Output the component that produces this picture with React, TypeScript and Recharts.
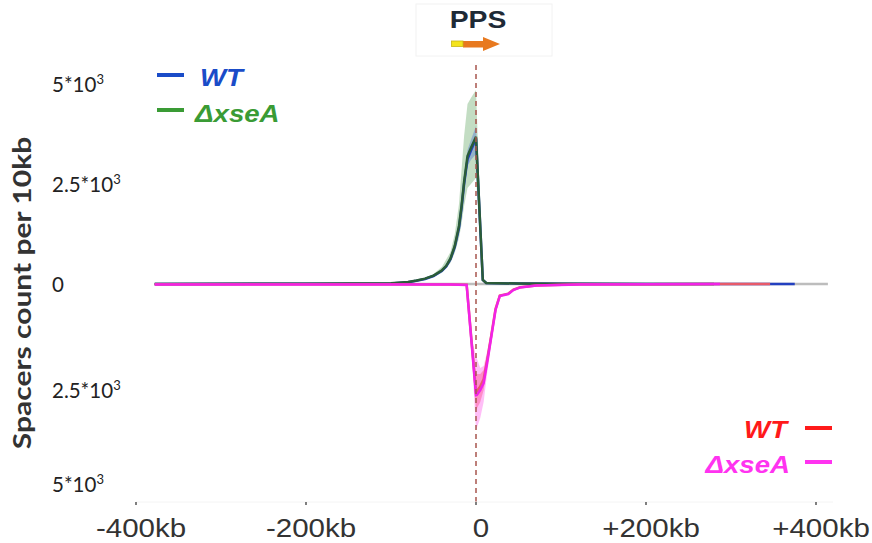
import React from 'react';
import { ComposedChart, Line, Area, XAxis, YAxis, ReferenceLine } from 'recharts';

// --- data (kb from PPS, spacers per 10kb) ---
const xTicks = [-400, -200, 0, 200, 400];
const xTickLabels = ['-400kb', '-200kb', '0', '+200kb', '+400kb'];
const yTicks = [-5000, -2500, 0, 2500, 5000];

const baselineKb = [-378, 414];
const baselineVal = [0, 0];

// upper half (WT blue, ΔxseA green)
const wtPosKb = [-378, -200, -100, -80, -70, -60, -50, -40, -35, -30, -25, -20, -17, -14, -10, -6, 0, 8, 12, 50, 100, 200, 300, 375];
const wtPos = [0, 5, 15, 45, 80, 125, 200, 330, 440, 620, 920, 1400, 1900, 2500, 3120, 3330, 3640, 100, 25, 12, 5, 2, 0, 0];
const xsePosKb = [-378, -200, -100, -80, -70, -60, -50, -40, -35, -30, -25, -20, -17, -14, -10, -6, 0, 8, 12, 50, 100, 200, 280];
const xsePos = [0, 5, 20, 50, 90, 135, 210, 345, 455, 640, 950, 1450, 1950, 2550, 3200, 3400, 3680, 100, 25, 12, 5, 2, 0];

const posBandKb = [-60, -50, -40, -30, -25, -20, -17, -14, -10, -6, 0, 8, 12];
const xsePosLo = [115, 180, 280, 530, 780, 1150, 1500, 1950, 2400, 2500, 2650, 80, 20];
const xsePosHi = [160, 250, 430, 800, 1250, 2000, 2850, 3700, 4500, 4650, 4850, 130, 30];
const wtPosLo = [115, 185, 310, 590, 880, 1320, 1800, 2380, 2950, 3100, 3250, 90, 22];
const wtPosHi = [135, 215, 350, 650, 960, 1500, 2000, 2650, 3350, 3600, 3950, 110, 28];

// lower half (WT red, ΔxseA magenta), drawn downwards
const xseNegKb = [-378, -100, -30, -11, 0, 1, 5, 9, 13, 18, 23, 28, 38, 44, 52, 71, 122, 200, 287];
const xseNeg = [-10, -10, -15, -25, -2780, -2775, -2650, -2480, -1980, -1320, -650, -300, -250, -150, -85, -40, -10, -5, 0];
const wtNegKb = [-378, -100, -30, -11, 0, 1, 5, 9, 13, 18, 23, 28, 38, 44, 52, 71, 122, 200, 287, 346];
const wtNeg = [-5, -5, -10, -20, -2700, -2680, -2560, -2380, -1920, -1280, -620, -290, -240, -140, -80, -35, -8, -4, -2, 0];

const negBandKb = [-11, -5, 0, 5, 9, 13, 18, 23, 28];
const xseNegLo = [-30, -1750, -3650, -3350, -2950, -2250, -1500, -720, -330];
const xseNegHi = [-20, -1350, -1800, -2100, -2050, -1700, -1150, -580, -270];
const wtNegLo = [-25, -1700, -3150, -2950, -2650, -2100, -1400, -680, -310];
const wtNegHi = [-20, -1400, -2250, -2250, -2150, -1780, -1200, -600, -280];

const pts = (xs: number[], ys: number[]) => xs.map((kb, i) => ({ kb, v: ys[i] }));
const band = (xs: number[], lo: number[], hi: number[]) => xs.map((kb, i) => ({ kb, band: [lo[i], hi[i]] }));

const YTick = (props: any) => {
  const { y, payload } = props;
  const v = Math.abs(payload.value);
  const nudge = payload.value < 0 ? (payload.value === -2500 ? 7 : 1) : 1;
  return (
    <text x={52} y={y + nudge} dy="0.35em" fontFamily="Lato" fontSize={20.5} fill="#222">
      {v === 0 ? '0' : `${v / 1000}*10`}
      {v !== 0 && <tspan dy={-8} fontSize={13}>3</tspan>}
    </text>
  );
};

const XTick = (props: any) => {
  const { x, y, payload } = props;
  const idx = xTicks.indexOf(payload.value);
  return (
    <g transform={`translate(${x + 5},${y + 30})`}>
      <text transform="scale(1.18,1)" textAnchor="middle" fontFamily="Liberation Sans" fontSize={25} fill="#333">
        {xTickLabels[idx]}
      </text>
    </g>
  );
};

export default function App() {
  return (
    <div style={{ position: 'absolute', left: 0, top: 0, width: 872, height: 543, background: '#fff' }}>
      <ComposedChart width={872} height={543} margin={{ top: 64, right: 39, bottom: 5, left: 0 }}>
        <XAxis
          dataKey="kb"
          type="number"
          domain={[-400, 420]}
          ticks={xTicks}
          allowDataOverflow
          height={36}
          axisLine={{ stroke: '#f4f4f4' }}
          tickLine={{ stroke: '#555', strokeWidth: 1.5 }}
          tickSize={3}
          tick={<XTick />}
        />
        <YAxis
          type="number"
          domain={[-5450, 5500]}
          ticks={yTicks}
          width={136}
          axisLine={false}
          tickLine={false}
          tick={<YTick />}
        />

        <Area data={band(posBandKb, xsePosLo, xsePosHi)} dataKey="band" type="linear" stroke="none" fill="#a9cfa9" fillOpacity={0.7} isAnimationActive={false} />
        <Area data={band(posBandKb, wtPosLo, wtPosHi)} dataKey="band" type="linear" stroke="none" fill="#7f9fcc" fillOpacity={0.7} isAnimationActive={false} />
        <Area data={band(negBandKb, xseNegLo, xseNegHi)} dataKey="band" type="linear" stroke="none" fill="#ffa8f4" fillOpacity={0.75} isAnimationActive={false} />
        <Area data={band(negBandKb, wtNegLo, wtNegHi)} dataKey="band" type="linear" stroke="none" fill="#ff6aa8" fillOpacity={0.6} isAnimationActive={false} />

        <Line data={pts(baselineKb, baselineVal)} dataKey="v" type="linear" stroke="#bdbdbd" strokeWidth={2.5} dot={false} isAnimationActive={false} />
        <Line data={pts(wtPosKb, wtPos)} dataKey="v" type="linear" stroke="#2340c0" strokeWidth={2.5} dot={false} isAnimationActive={false} />
        <Line data={pts(xsePosKb, xsePos)} dataKey="v" type="linear" stroke="#2b5c38" strokeWidth={2.5} dot={false} isAnimationActive={false} />
        <Line data={pts(wtNegKb, wtNeg)} dataKey="v" type="linear" stroke="#e85a6a" strokeWidth={2.5} dot={false} isAnimationActive={false} />
        <Line data={pts(xseNegKb, xseNeg)} dataKey="v" type="linear" stroke="#f222e6" strokeWidth={2.5} dot={false} isAnimationActive={false} />

        <ReferenceLine x={0} stroke="#a8554e" strokeWidth={1.5} strokeDasharray="5 4" />
      </ComposedChart>

      <svg width={872} height={543} style={{ position: 'absolute', left: 0, top: 0, pointerEvents: 'none' }}>
        {/* PPS marker */}
        <rect x={416} y={4} width={136} height={52} fill="none" stroke="#f2f2f2" />
        <text transform="translate(478,28) scale(1.18,1)" textAnchor="middle" fontFamily="Liberation Sans" fontWeight="bold" fontSize={24} fill="#1e2a36">PPS</text>
        <polygon points="463,41 483,41 483,37 500,44 483,51 483,47.5 463,47.5" fill="#e8791f" />
        <rect x={451.5} y={41} width={11.5} height={5.5} fill="#f4e41c" stroke="#c9b515" strokeWidth={0.8} />

        {/* y title */}
        <text transform="translate(31,293) rotate(-90) scale(1.25,1.05)" textAnchor="middle" fontFamily="Lato" fontWeight="bold" fontSize={24} fill="#333">Spacers count per 10kb</text>

        {/* upper legend */}
        <line x1={157} x2={184} y1={75} y2={75} stroke="#1a4cc8" strokeWidth={4} />
        <text transform="translate(200,86) scale(1.15,1)" fontFamily="Liberation Sans" fontWeight="bold" fontStyle="italic" fontSize={24} fill="#1a4cc8">WT</text>
        <line x1={157} x2={184} y1={110} y2={110} stroke="#3a9b35" strokeWidth={4} />
        <text transform="translate(195,122) scale(1.15,1)" fontFamily="Liberation Sans" fontWeight="bold" fontStyle="italic" fontSize={24} fill="#3a9b35">ΔxseA</text>

        {/* lower legend */}
        <text transform="translate(787,438) scale(1.15,1)" textAnchor="end" fontFamily="Liberation Sans" fontWeight="bold" fontStyle="italic" fontSize={24} fill="#ff1a1a">WT</text>
        <line x1={805} x2={832} y1={428} y2={428} stroke="#ff1a1a" strokeWidth={4} />
        <text transform="translate(790,473) scale(1.15,1)" textAnchor="end" fontFamily="Liberation Sans" fontWeight="bold" fontStyle="italic" fontSize={24} fill="#ff33f0">ΔxseA</text>
        <line x1={805} x2={832} y1={462} y2={462} stroke="#ff33f0" strokeWidth={4} />
      </svg>
    </div>
  );
}
